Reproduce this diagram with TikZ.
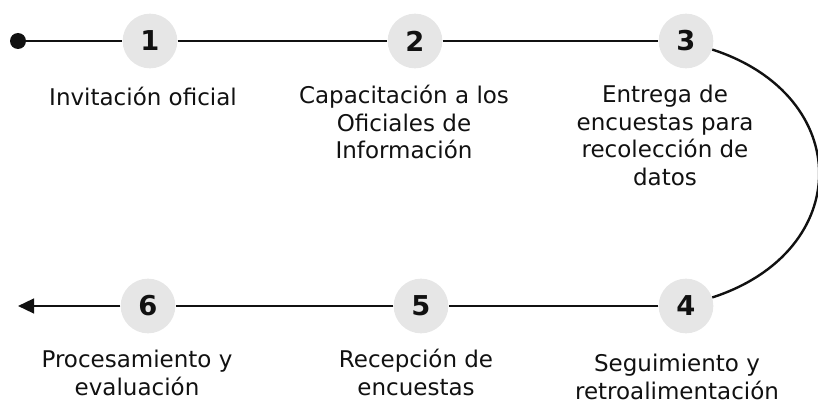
\documentclass[tikz,border=0pt]{standalone}
\usepackage{fontspec}
\setmainfont{DejaVu Sans}
\usepackage{xcolor}
\usetikzlibrary{arrows.meta,positioning,calc}

\definecolor{stepgray}{HTML}{E6E6E6}
\definecolor{inkblack}{HTML}{111111}

\begin{document}
\begin{tikzpicture}[x=0.75pt,y=0.75pt,
        num/.style={circle,fill=stepgray,minimum size=41pt,inner sep=0pt,text=inkblack,
            font=\bfseries\fontsize{20.5}{20.5}\selectfont},
        txt/.style={anchor=north,align=center,inner sep=0pt,text=inkblack,
            font=\fontsize{17.25}{20.6}\selectfont,execute at begin node=\rule{0pt}{15pt}},
        line/.style={line width=1.8pt,draw=inkblack}]
    \useasboundingbox (0,0) rectangle (818,-403);

    % numbered steps, top row left to right, bottom row right to left
    \node[num] (n1) at (150,-41) {1};
    \node[num] (n2) at (415,-41) {2};
    \node[num] (n3) at (686,-41) {3};
    \node[num] (n4) at (686,-306) {4};
    \node[num] (n5) at (421,-306) {5};
    \node[num] (n6) at (148,-306) {6};
    \coordinate (start) at (18,-41);
    \coordinate (finish) at (18,-306);

    % the path through the steps
    \fill[inkblack] (start) circle (8);                                   % start dot
    \draw[line] (start) -- (n1) -- (n2) -- (n3);                          % top row
    \draw[line] (n3) to[out=-18,in=18,looseness=1.55] (n4);               % turn on the right
    \draw[line,-{Triangle[length=12pt,width=11pt]}] (n4) -- (n5) -- (n6) -- (finish);  % bottom row

    % captions under the steps
    \node[txt] (t1) at (143,-85) {Invitación oficial};
    \node[txt] (t2) at (404,-85) {Capacitación a los\\Oficiales de\\Información};
    \node[txt] (t3) at (665,-85) {Entrega de\\encuestas para\\recolección de\\datos};
    \node[txt] (t4) at (677,-354) {Seguimiento y\\retroalimentación};
    \node[txt] (t5) at (416,-349) {Recepción de\\encuestas};
    \node[txt] (t6) at (137,-350) {Procesamiento y\\evaluación};
\end{tikzpicture}
\end{document}
